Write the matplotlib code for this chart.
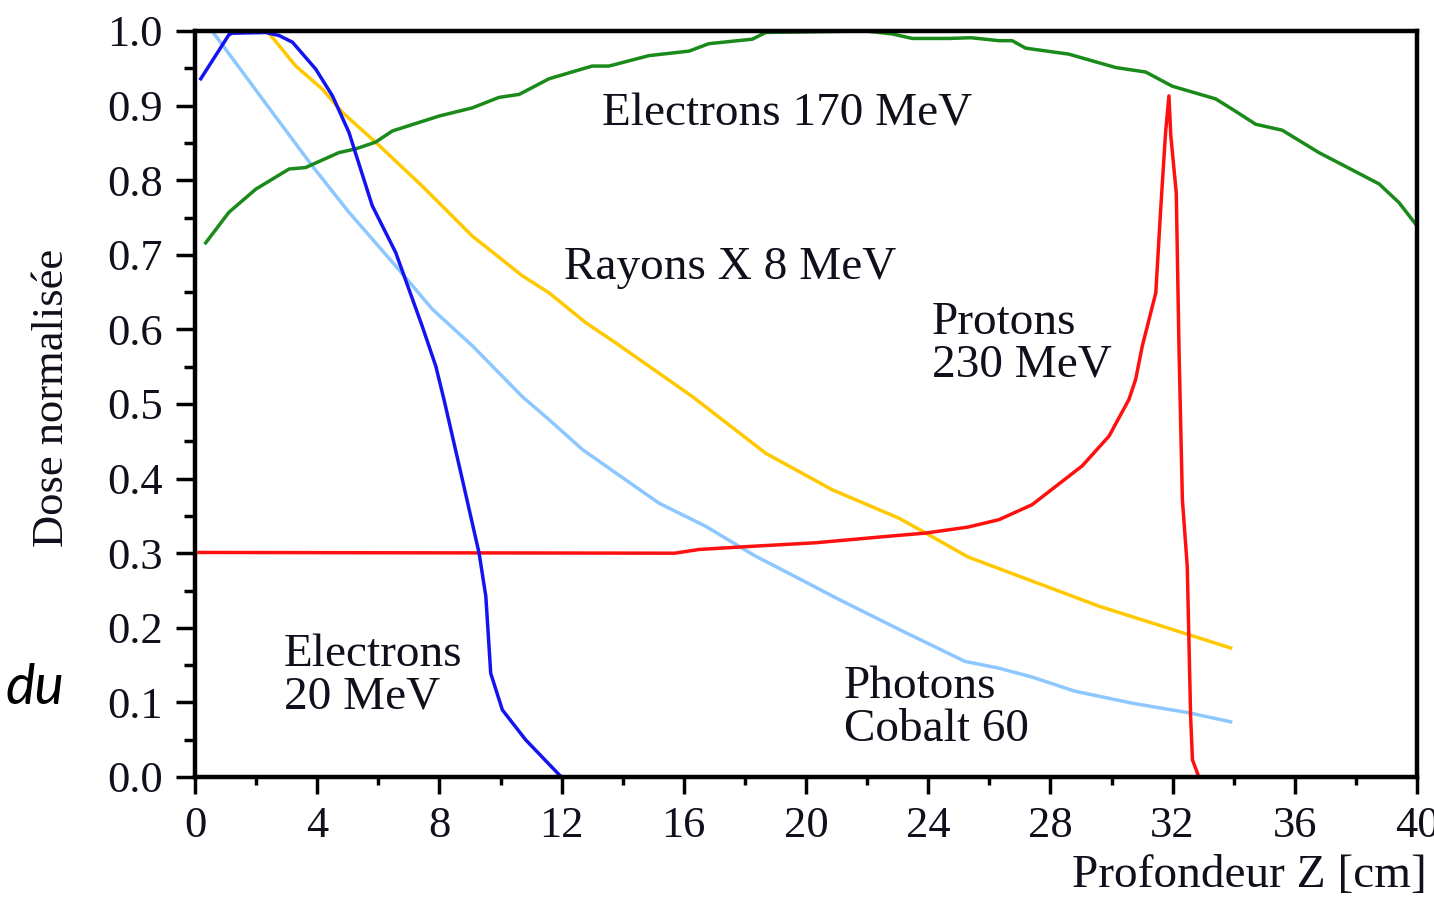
import matplotlib
matplotlib.use("Agg")
import matplotlib.pyplot as plt
from matplotlib.ticker import MultipleLocator, FormatStrFormatter

# Electrons 20 MeV
e20_x = [0.19, 1.11, 1.22, 2.31, 2.75, 3.19, 3.95, 4.5, 5.04, 5.8, 6.57, 7.44, 7.88, 8.15,
         8.75, 9.30, 9.52, 9.68, 10.06, 10.82, 11.92, 12.0]
e20_y = [0.936, 0.995, 0.997, 0.998, 0.994, 0.985, 0.949, 0.913, 0.864, 0.766, 0.703, 0.604, 0.551, 0.506,
         0.399, 0.300, 0.242, 0.139, 0.090, 0.050, 0.003, 0.0]

# Photons Cobalt 60
co_x = [0.56, 2.53, 3.84, 5.04, 6.57, 7.77, 9.08, 10.71, 11.59, 12.68, 15.19, 16.72, 18.35, 19.44,
        21.08, 23.04, 25.2, 26.3, 27.4, 28.8, 30.67, 32.54, 33.9]
co_y = [1.0, 0.891, 0.819, 0.757, 0.685, 0.627, 0.578, 0.510, 0.479, 0.439, 0.367, 0.336, 0.296, 0.273,
        0.238, 0.198, 0.155, 0.146, 0.134, 0.115, 0.099, 0.086, 0.074]

# Rayons X 8 MeV
rx_x = [2.36, 3.30, 4.17, 4.82, 5.91, 7.44, 9.08, 10.71, 11.59, 12.79, 13.77, 16.28, 18.68, 20.86,
        23.04, 23.92, 25.3, 29.59, 33.9]
rx_y = [1.0, 0.953, 0.922, 0.891, 0.851, 0.792, 0.725, 0.672, 0.649, 0.609, 0.582, 0.510, 0.434, 0.385,
        0.347, 0.327, 0.295, 0.229, 0.173]

# Protons 230 MeV
pr_x = [0.13, 15.7, 16.5, 18.13, 20.32, 22.5, 23.92, 25.3, 26.32, 27.4, 29.04, 29.92, 30.57, 30.79,
        31.01, 31.45, 31.61, 31.77, 31.88, 31.94, 32.12, 32.21, 32.32, 32.48, 32.59, 32.65, 32.86]
pr_y = [0.301, 0.300, 0.305, 0.309, 0.314, 0.322, 0.327, 0.335, 0.345, 0.365, 0.417, 0.457, 0.506, 0.533,
        0.578, 0.649, 0.761, 0.864, 0.913, 0.860, 0.783, 0.573, 0.372, 0.282, 0.081, 0.023, 0.0]

# Electrons 170 MeV
e170_x = [0.35, 1.11, 1.99, 3.08, 3.62, 4.71, 5.26, 5.91, 6.46, 7.99, 9.08, 9.95, 10.61, 11.59, 13.0,
          13.55, 14.86, 16.17, 16.82, 18.24, 18.68, 20.32, 21.95, 22.83, 23.48, 24.68, 25.4, 26.32,
          26.75, 27.19, 28.6, 30.14, 31.12, 31.99, 33.41, 33.96, 34.72, 35.59, 36.79, 38.76, 39.41, 39.96]
e170_y = [0.716, 0.757, 0.788, 0.815, 0.817, 0.837, 0.842, 0.851, 0.866, 0.886, 0.897, 0.911, 0.915, 0.936,
          0.953, 0.953, 0.967, 0.973, 0.983, 0.989, 0.998, 0.999, 1.0, 0.996, 0.990, 0.990, 0.991, 0.987,
          0.987, 0.977, 0.969, 0.951, 0.945, 0.926, 0.909, 0.895, 0.875, 0.867, 0.837, 0.795, 0.770, 0.741]

x_ticks = list(range(0, 41, 4))
y_ticks = [i / 10 for i in range(11)]

plt.rcParams['font.family'] = ['Liberation Serif', 'DejaVu Serif']
txt = "#10101c"

fig = plt.figure(figsize=(14.34, 8.98), dpi=100)
ax = fig.add_axes([195 / 1434, 1 - 777 / 898, (1417 - 195) / 1434, (777 - 31) / 898])

lw = 2.5
ax.plot(co_x, co_y, color="#8cc8ff", lw=lw)
ax.plot(rx_x, rx_y, color="#ffc800", lw=lw)
ax.plot(pr_x, pr_y, color="#ff1010", lw=lw)
ax.plot(e170_x, e170_y, color="#1a8a1a", lw=lw)
ax.plot(e20_x, e20_y, color="#1414f0", lw=lw)

ax.set_xlim(0, 40)
ax.set_ylim(0, 1)
ax.set_xticks(x_ticks)
ax.set_yticks(y_ticks)
ax.xaxis.set_minor_locator(MultipleLocator(2))
ax.yaxis.set_minor_locator(MultipleLocator(0.05))
ax.yaxis.set_major_formatter(FormatStrFormatter('%.1f'))

for s in ax.spines.values():
    s.set_linewidth(3.2)
    s.set_color('black')

ax.tick_params(axis='y', which='major', direction='out', length=14, width=2.5, pad=9,
               labelsize=32, labelcolor=txt)
ax.tick_params(axis='y', which='minor', direction='out', length=8, width=2.5)
ax.tick_params(axis='x', which='major', direction='out', length=12, width=2.5, pad=9,
               labelsize=32, labelcolor=txt)
ax.tick_params(axis='x', which='minor', direction='out', length=6, width=2.5)

fs = 34
ax.text(13.32, 0.889, "Electrons 170 MeV", fontsize=fs, color=txt, va='center', ha='left')
ax.text(12.08, 0.683, "Rayons X 8 MeV", fontsize=fs, color=txt, va='center', ha='left')
ax.text(24.12, 0.580, "Protons\n230 MeV", fontsize=fs, color=txt, va='center', ha='left', linespacing=1.0)
ax.text(2.91, 0.1356, "Electrons\n20 MeV", fontsize=fs, color=txt, va='center', ha='left', linespacing=1.0)
ax.text(21.24, 0.092, "Photons\nCobalt 60", fontsize=fs, color=txt, va='center', ha='left', linespacing=1.0)

fig.text(52 / 1434, 1 - 398 / 898, "Dose normalisée", rotation=90, fontsize=32, color=txt,
         ha='center', va='center')
fig.text(1427 / 1434, 1 - 876 / 898, "Profondeur Z [cm]", fontsize=34, color=txt,
         ha='right', va='center')
fig.text(5 / 1434, 1 - 688 / 898, "du", fontsize=40, color='black', style='italic',
         family=['Lato', 'DejaVu Sans'], ha='left', va='center')

fig.savefig("out.png", dpi=100)
